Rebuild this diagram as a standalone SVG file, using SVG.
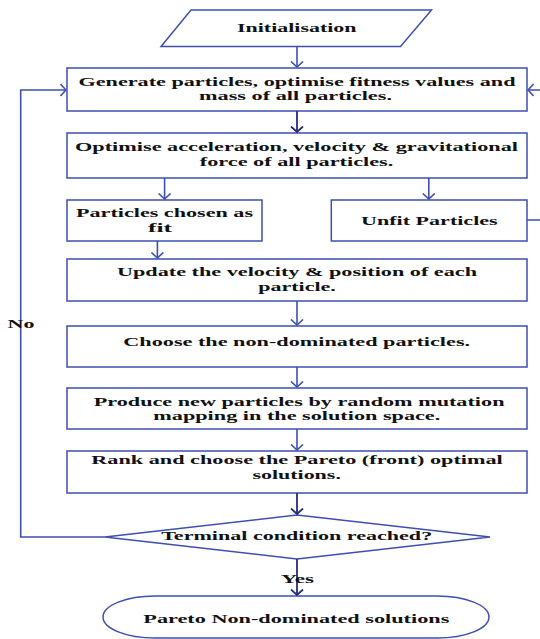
<svg xmlns="http://www.w3.org/2000/svg" width="540" height="639" viewBox="0 0 540 639">
<style>
.box{fill:#fff;stroke:#3d4fb0;stroke-width:1.5}
.t{font-family:"Liberation Serif","Times New Roman",serif;font-weight:bold;font-size:13.5px;fill:#111}
.c{fill:none;stroke:#3d4fb0;stroke-width:1.6}
.d{fill:none;stroke:#232d78;stroke-width:1.8}
</style>
<defs>
<marker id="ab" viewBox="0 0 7 14" markerWidth="7" markerHeight="14" refX="6" refY="7" orient="auto" markerUnits="userSpaceOnUse">
<path d="M0.5,1 L6,7 L0.5,13" fill="none" stroke="#3d4fb0" stroke-width="1.6"/>
</marker>
<marker id="ad" viewBox="0 0 7 14" markerWidth="7" markerHeight="14" refX="6" refY="7" orient="auto" markerUnits="userSpaceOnUse">
<path d="M0.5,1 L6,7 L0.5,13" fill="none" stroke="#232d78" stroke-width="1.8"/>
</marker>
</defs>
<rect width="540" height="639" fill="#fff"/>
<g id="init">
<polygon class="box" points="191,10 431.5,10 400.5,46.5 161,46.5"/>
<text class="t" x="237" y="32" textLength="119.5" lengthAdjust="spacingAndGlyphs">Initialisation</text>
</g>
<g id="generate">
<rect class="box" x="67" y="68" width="460" height="43"/>
<text class="t" x="78.5" y="86" textLength="437" lengthAdjust="spacingAndGlyphs">Generate particles, optimise fitness values and</text>
<text class="t" x="199" y="100" textLength="193" lengthAdjust="spacingAndGlyphs">mass of all particles.</text>
</g>
<g id="optimise">
<rect class="box" x="67" y="133" width="460" height="45"/>
<text class="t" x="75" y="151" textLength="443" lengthAdjust="spacingAndGlyphs">Optimise acceleration, velocity &amp; gravitational</text>
<text class="t" x="199.8" y="166" textLength="193.5" lengthAdjust="spacingAndGlyphs">force of all particles.</text>
</g>
<g id="fit">
<rect class="box" x="67" y="200" width="195" height="41"/>
<text class="t" x="76" y="217" textLength="177" lengthAdjust="spacingAndGlyphs">Particles chosen as</text>
<text class="t" x="148" y="232" textLength="24" lengthAdjust="spacingAndGlyphs">fit</text>
</g>
<g id="unfit">
<rect class="box" x="331.3" y="200" width="195.7" height="41"/>
<text class="t" x="361" y="225" textLength="136.7" lengthAdjust="spacingAndGlyphs">Unfit Particles</text>
</g>
<g id="update">
<rect class="box" x="67" y="259" width="460" height="42"/>
<text class="t" x="117" y="276" textLength="360" lengthAdjust="spacingAndGlyphs">Update the velocity &amp; position of each</text>
<text class="t" x="258.3" y="291" textLength="77.5" lengthAdjust="spacingAndGlyphs">particle.</text>
</g>
<g id="choose">
<rect class="box" x="67" y="326" width="460" height="41"/>
<text class="t" x="123.3" y="346" textLength="346.8" lengthAdjust="spacingAndGlyphs">Choose the non-dominated particles.</text>
</g>
<g id="produce">
<rect class="box" x="67" y="388" width="460" height="41"/>
<text class="t" x="93.7" y="406" textLength="410.8" lengthAdjust="spacingAndGlyphs">Produce new particles by random mutation</text>
<text class="t" x="153.3" y="420" textLength="287" lengthAdjust="spacingAndGlyphs">mapping in the solution space.</text>
</g>
<g id="rank">
<rect class="box" x="67" y="451" width="460" height="42"/>
<text class="t" x="91.3" y="464" textLength="411.5" lengthAdjust="spacingAndGlyphs">Rank and choose the Pareto (front) optimal</text>
<text class="t" x="252.4" y="479" textLength="88.5" lengthAdjust="spacingAndGlyphs">solutions.</text>
</g>
<g id="terminal">
<polygon class="box" points="297,515 490,537 297,559 105,537"/>
<text class="t" x="161.2" y="540" textLength="271" lengthAdjust="spacingAndGlyphs">Terminal condition reached?</text>
</g>
<g id="pareto">
<rect class="box" x="103" y="596" width="386" height="42" rx="52" ry="21"/>
<text class="t" x="143.3" y="623" textLength="306" lengthAdjust="spacingAndGlyphs">Pareto Non-dominated solutions</text>
</g>
<g id="connectors">
<path class="c" d="M297,46.5 V67" marker-end="url(#ab)"/>
<path class="d" d="M297,111 V132" marker-end="url(#ad)"/>
<path class="c" d="M164.6,178 V199" marker-end="url(#ab)"/>
<path class="c" d="M428.8,178 V199" marker-end="url(#ab)"/>
<path class="c" d="M157.4,241 V258" marker-end="url(#ab)"/>
<path class="c" d="M297,301 V325" marker-end="url(#ab)"/>
<path class="c" d="M297,367 V387" marker-end="url(#ab)"/>
<path class="c" d="M297,429 V450" marker-end="url(#ab)"/>
<path class="d" d="M297,493 V514" marker-end="url(#ad)"/>
<path class="d" d="M297,559 V595" marker-end="url(#ad)"/>
<path class="c" d="M105,537 H20.7 V90 H66" marker-end="url(#ab)"/>
<path class="c" d="M527,220 H542 V90 H528" marker-end="url(#ab)"/>
<text class="t" x="7.6" y="328" textLength="26.8" lengthAdjust="spacingAndGlyphs">No</text>
<text class="t" x="280.7" y="583" textLength="33.4" lengthAdjust="spacingAndGlyphs">Yes</text>
</g>
</svg>
